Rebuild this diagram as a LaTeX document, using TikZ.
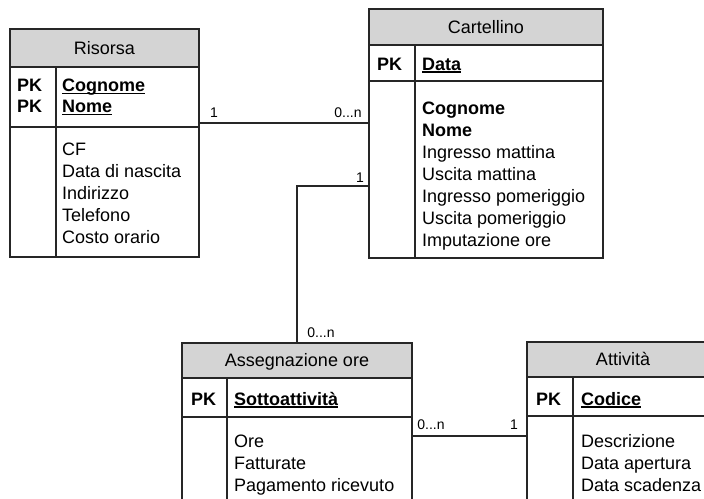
\documentclass[tikz,border=0pt]{standalone}
\usepackage{fontspec}
\setmainfont{Liberation Sans}
% bold, underlined key attribute
\newcommand\keyattr[1]{\setbox0\hbox{\bfseries #1}\rlap{\rule[-2.6pt]{\wd0}{1.3pt}}\box0}
\begin{document}
\begin{tikzpicture}[x=1pt,y=-1pt,
  box/.style={draw=black!85, line width=1.4pt, anchor=north west, inner sep=0pt, outer sep=0pt},
  head/.style={box, fill=black!17, font=\fontsize{18}{22}\selectfont, text height=12.9pt, text depth=0pt},
  attr/.style={anchor=base west, inner sep=0pt, font=\fontsize{18}{22}\selectfont},
  pk/.style={attr, font=\fontsize{18}{22}\selectfont\bfseries},
  card/.style={anchor=base, inner sep=0pt, font=\fontsize{14}{16}\selectfont},
  conn/.style={draw=black!85, line width=1.4pt},
  divider/.style={draw=black!85, line width=1.4pt}]

\useasboundingbox (0,0) rectangle (704,498);
\clip (0,0) rectangle (704,498);

% ---------- Risorsa ----------
\node[head, minimum width=189pt, minimum height=38pt] (ris-h) at (10,29) {Risorsa};
\node[box, minimum width=189pt, minimum height=60pt] (ris-pk) at (10,67) {};
\node[box, minimum width=189pt, minimum height=130pt] (ris-body) at (10,127) {};
\draw[divider] (56,67) -- (56,257);
\node[pk] (ris-k1) at (17,91.5) {PK};
\node[pk] (ris-k2) at (17,112.5) {PK};
\node[attr] (ris-a1) at (62,91.5) {\keyattr{Cognome}};
\node[attr] (ris-a2) at (62,112.5) {\keyattr{Nome}};
\foreach \t [count=\i from 0] in {CF, Data di nascita, Indirizzo, Telefono, Costo orario}
  \node[attr] (ris-b\i) at (62,155.5+22*\i) {\t};

% ---------- Cartellino ----------
\node[head, minimum width=234pt, minimum height=36pt] (car-h) at (369,9) {Cartellino};
\node[box, minimum width=234pt, minimum height=36pt] (car-pk) at (369,45) {};
\node[box, minimum width=234pt, minimum height=177pt] (car-body) at (369,81) {};
\draw[divider] (415,45) -- (415,258);
\node[pk] (car-k1) at (377,70) {PK};
\node[attr] (car-a1) at (422,70) {\keyattr{Data}};
\node[pk] (car-b0) at (422,114) {Cognome};
\node[pk] (car-b1) at (422,136) {Nome};
\foreach \t [count=\i from 2] in {Ingresso mattina, Uscita mattina, Ingresso pomeriggio, Uscita pomeriggio, Imputazione ore}
  \node[attr] (car-b\i) at (422,114+22*\i) {\t};

% ---------- Assegnazione ore ----------
\node[head, minimum width=230pt, minimum height=35pt] (ass-h) at (182,343) {Assegnazione ore};
\node[box, minimum width=230pt, minimum height=39pt] (ass-pk) at (182,378) {};
\node[box, minimum width=230pt, minimum height=100pt] (ass-body) at (182,417) {};
\draw[divider] (227,378) -- (227,520);
\node[pk] (ass-k1) at (191,405) {PK};
\node[attr] (ass-a1) at (234,405) {\keyattr{Sottoattività}};
\foreach \t [count=\i from 0] in {Ore, Fatturate, Pagamento ricevuto}
  \node[attr] (ass-b\i) at (234,447+22*\i) {\t};

% ---------- Attività ----------
\node[head, minimum width=192pt, minimum height=35pt] (att-h) at (527,342) {Attività};
\node[box, minimum width=192pt, minimum height=39pt] (att-pk) at (527,377) {};
\node[box, minimum width=192pt, minimum height=100pt] (att-body) at (527,416) {};
\draw[divider] (573,377) -- (573,520);
\node[pk] (att-k1) at (536,405) {PK};
\node[attr] (att-a1) at (581,405) {\keyattr{Codice}};
\foreach \t [count=\i from 0] in {Descrizione, Data apertura, Data scadenza}
  \node[attr] (att-b\i) at (581,447+22*\i) {\t};

% ---------- relationships ----------
\draw[conn] ([yshift=4pt]ris-pk.south east) coordinate (r1) -- (r1 -| car-body.west);
\draw[conn] ([yshift=-16.5pt]car-body.west) -| (ass-h.north);
\draw[conn] ([yshift=-19pt]ass-pk.south east) coordinate (r3) -- (r3 -| att-body.west);

% cardinalities
\node[card] (m1a) at (214,117) {1};
\node[card] (m1b) at (348,117) {0...n};
\node[card] (m2a) at (360,182) {1};
\node[card] (m2b) at (321,337) {0...n};
\node[card] (m3a) at (431,429) {0...n};
\node[card] (m3b) at (514,429) {1};
\end{tikzpicture}
\end{document}
